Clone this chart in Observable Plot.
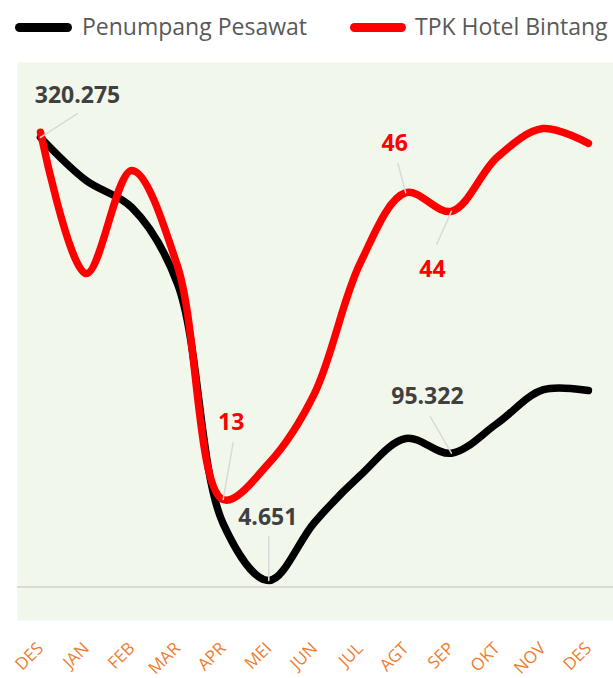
<!DOCTYPE html>
<html><head><meta charset="utf-8">
<script src="https://cdn.jsdelivr.net/npm/d3@7"></script>
<script src="https://cdn.jsdelivr.net/npm/@observablehq/plot@0.6"></script>
<style>
body{margin:0;background:#fff;}
#wrap{position:relative;width:613px;height:678px;overflow:hidden;font-family:"Open Sans",sans-serif;}
#legend{position:absolute;left:0;top:0;width:613px;height:55px;z-index:2;}
.sw{position:absolute;top:23px;height:9px;border-radius:5px;}
.lt{position:absolute;top:10px;font-size:23px;color:#595959;white-space:nowrap;line-height:32px;}
#chart{position:absolute;left:0;top:0;}
</style></head><body>
<div id="wrap"><div id="legend"></div><div id="chart"></div></div>
<script>
// ---- data ----
const months = ["DES","JAN","FEB","MAR","APR","MEI","JUN","JUL","AGT","SEP","OKT","NOV","DES"];
const seriesNames = ["Penumpang Pesawat", "TPK Hotel Bintang"];
const seriesColors = ["#000000", "#ff0000"];
const penumpang = [320275, 289600, 270400, 216200, 45200, 4651, 46000, 79400, 105800, 95322, 116500, 140500, 140000];
const tpk = [52.5, 37.3, 48.4, 38.1, 13, 16.9, 24.4, 38.4, 46, 44, 49.8, 52.9, 51.3];
const penumpangLabelIdx = [0, 5, 9];
const tpkLabelIdx = [4, 8, 9];

// ---- legend ----
const legend = document.getElementById("legend");
const swLeft = [15, 350], txtLeft = [82, 415], swW = [57, 56];
seriesNames.forEach((n, k) => {
  const s = document.createElement("div");
  s.className = "sw"; s.style.left = swLeft[k] + "px"; s.style.width = swW[k] + "px"; s.style.background = seriesColors[k];
  const t = document.createElement("div");
  t.className = "lt"; t.style.left = txtLeft[k] + "px"; t.textContent = n;
  legend.appendChild(s); legend.appendChild(t);
});

// ---- scales ----
const fmtId = d3.formatLocale({decimal: ",", thousands: ".", grouping: [3], currency: ["Rp", ""]}).format(",d");
const idx = d3.range(months.length);
const yDomain = [-23869, 373706];
const tpkDomain = [0, 60];
const tpkToY = d3.scaleLinear(tpkDomain, yDomain);

// annotation styling: text offset and leader (length, angle)
const penAnn = [
  {dx: 37, dy: -42, len: 44, rot: 57},
  {dx: -1, dy: -63, len: 44, rot: 0},
  {dx: -24, dy: -57, len: 42, rot: -30}
];
const tpkAnn = [
  {dx: 8, dy: -77, len: 58, rot: 10},
  {dx: -11, dy: -49, len: 30, rot: -15},
  {dx: -19, dy: 58, len: 36, rot: -156}
];

const annMarks = [];
penumpangLabelIdx.forEach((i, k) => {
  const a = penAnn[k];
  annMarks.push(Plot.vector([i], {x: d => d, y: d => penumpang[d], length: a.len, rotate: a.rot, anchor: "start", r: 0, stroke: "#d9d9d9", strokeWidth: 1.5}));
  annMarks.push(Plot.text([i], {x: d => d, y: d => penumpang[d], text: d => fmtId(penumpang[d]), dx: a.dx, dy: a.dy, fill: "#404040", fontWeight: "bold", fontSize: 23, lineAnchor: "middle"}));
});
tpkLabelIdx.forEach((i, k) => {
  const a = tpkAnn[k];
  annMarks.push(Plot.vector([i], {x: d => d, y: d => tpkToY(tpk[d]), length: a.len, rotate: a.rot, anchor: "start", r: 0, stroke: "#d9d9d9", strokeWidth: 1.5}));
  annMarks.push(Plot.text([i], {x: d => d, y: d => tpkToY(tpk[d]), text: d => d3.format(".0f")(tpk[d]), dx: a.dx, dy: a.dy, fill: "#ff0000", fontWeight: "bold", fontSize: 23, lineAnchor: "middle"}));
});

const chart = Plot.plot({
  width: 613, height: 678,
  marginLeft: 17, marginRight: 0, marginTop: 62, marginBottom: 58,
  x: {domain: [-0.504, 12.55], axis: null},
  y: {domain: yDomain, axis: null},
  style: {fontFamily: "Open Sans", background: "transparent", overflow: "visible"},
  marks: [
    Plot.frame({fill: "#f2f7ec", stroke: null}),
    Plot.ruleY([0], {stroke: "#d9d9d9", strokeWidth: 2}),
    Plot.line(idx, {x: i => i, y: i => penumpang[i], stroke: seriesColors[0], strokeWidth: 7.5, curve: "catmull-rom", strokeLinecap: "round", strokeLinejoin: "round"}),
    Plot.line(idx, {x: i => i, y: i => tpkToY(tpk[i]), stroke: seriesColors[1], strokeWidth: 7.5, curve: "catmull-rom", strokeLinecap: "round", strokeLinejoin: "round"}),
    ...annMarks,
    Plot.text(idx, {x: i => i, frameAnchor: "bottom", dy: 25, text: i => months[i], rotate: -45, textAnchor: "end", lineAnchor: "middle", fill: "#ED7D31", fontSize: 17})
  ]
});
document.getElementById("chart").appendChild(chart);
</script>
</body></html>
